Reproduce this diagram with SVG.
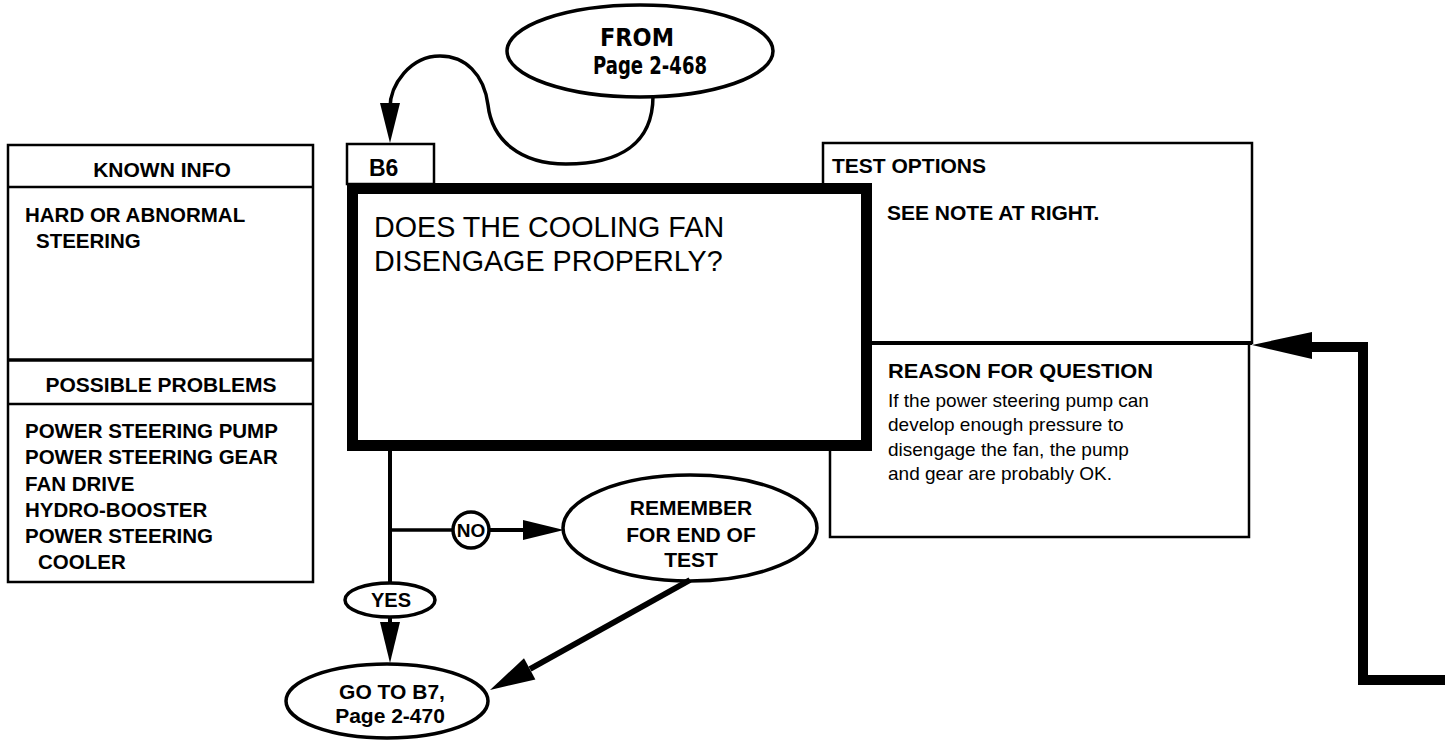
<svg xmlns="http://www.w3.org/2000/svg" width="1445" height="743" viewBox="0 0 1445 743">
<style>
.thin{fill:none;stroke:#000;stroke-width:2.5}
.node{fill:#fff;stroke:#000;stroke-width:3.5}
.t{font-family:"Liberation Sans",Arial,sans-serif;fill:#000}
.b{font-weight:bold}
.hd{font-family:"Liberation Sans",Arial,sans-serif;font-weight:bold;font-size:21px;fill:#000}
.li{font-family:"Liberation Sans",Arial,sans-serif;font-weight:bold;font-size:20.5px;fill:#000}
.ft{font-family:"DejaVu Sans","Noto Sans",sans-serif;font-weight:bold;font-size:25px;fill:#000}
.c{text-anchor:middle}
.ln{fill:none;stroke:#000}
</style>
<rect width="1445" height="743" fill="#fff"/>

<g id="known-info">
  <rect x="8" y="145" width="305" height="437" class="thin"/>
  <line x1="8" y1="187" x2="313" y2="187" class="thin"/>
  <line x1="8" y1="360" x2="313" y2="360" class="ln" stroke-width="3.5"/>
  <line x1="8" y1="404" x2="313" y2="404" class="thin"/>
  <text x="162" y="177" class="hd c">KNOWN INFO</text>
  <text x="25" y="222" class="li">HARD OR ABNORMAL</text>
  <text x="36" y="248" class="li">STEERING</text>
  <text x="161" y="392" class="hd c">POSSIBLE PROBLEMS</text>
  <text x="25" y="438" class="li">POWER STEERING PUMP</text>
  <text x="25" y="464" class="li">POWER STEERING GEAR</text>
  <text x="25" y="491" class="li">FAN DRIVE</text>
  <text x="25" y="517" class="li">HYDRO-BOOSTER</text>
  <text x="25" y="543" class="li">POWER STEERING</text>
  <text x="38" y="569" class="li">COOLER</text>
</g>

<g id="test-options">
  <rect x="823" y="143" width="429" height="200" class="thin"/>
  <rect x="830" y="343" width="419" height="194" class="thin"/>
  <line x1="823" y1="343" x2="1252" y2="343" class="ln" stroke-width="4"/>
  <text x="832" y="173" class="hd">TEST OPTIONS</text>
  <text x="887" y="220" class="t b" font-size="21">SEE NOTE AT RIGHT.</text>
  <text x="888" y="378" class="hd" textLength="265" lengthAdjust="spacingAndGlyphs">REASON FOR QUESTION</text>
  <text class="t" font-size="19">
    <tspan x="888" y="407">If the power steering pump can</tspan>
    <tspan x="888" y="431">develop enough pressure to</tspan>
    <tspan x="888" y="456">disengage the fan, the pump</tspan>
    <tspan x="888" y="480">and gear are probably OK.</tspan>
  </text>
</g>

<g id="b6-label">
  <rect x="347" y="144" width="87" height="40" class="thin" fill="#fff"/>
  <text x="369" y="176" class="t b" font-size="23">B6</text>
</g>

<g id="question">
  <rect x="352.5" y="188.5" width="514" height="257" fill="#fff" stroke="#000" stroke-width="11"/>
  <text x="374" y="237" class="t" font-size="28.7">DOES THE COOLING FAN</text>
  <text x="374" y="271" class="t" font-size="28.7">DISENGAGE PROPERLY?</text>
</g>

<g id="from">
  <ellipse cx="640" cy="51" rx="133" ry="46" class="node"/>
  <text x="637" y="46" class="ft c" textLength="74" lengthAdjust="spacingAndGlyphs">FROM</text>
  <text x="650" y="74" class="ft c" textLength="114" lengthAdjust="spacingAndGlyphs">Page 2-468</text>
</g>

<g id="remember">
  <ellipse cx="690" cy="528" rx="127" ry="53" class="node"/>
  <text x="691" y="515" class="hd c">REMEMBER</text>
  <text x="691" y="542" class="hd c">FOR END OF</text>
  <text x="691" y="567" class="hd c">TEST</text>
</g>

<g id="goto">
  <ellipse cx="387" cy="701" rx="101" ry="37" class="node"/>
  <text x="392" y="699" class="hd c">GO TO B7,</text>
  <text x="390" y="723" class="hd c">Page 2-470</text>
</g>

<g id="connectors">
  <path d="M653,96 C653,145 618,164 566,164 C520,164 492,140 488,105 C484,74 465,56 440,56 C410,56 390,85 390,108" class="ln" stroke-width="3.5"/>
  <polygon points="380,103 400,103 390,143"/>
  <line x1="390" y1="450" x2="390" y2="583" class="ln" stroke-width="4"/>
  <line x1="390" y1="530" x2="453" y2="530" class="ln" stroke-width="3.5"/>
  <line x1="390" y1="617" x2="390" y2="626" class="ln" stroke-width="4"/>
  <polygon points="380,622 400,622 390,663"/>
  <line x1="489" y1="530" x2="526" y2="530" class="ln" stroke-width="4"/>
  <polygon points="523,520 523,540 564,530"/>
  <line x1="690" y1="580" x2="530" y2="669" class="ln" stroke-width="6"/>
  <polygon points="490,690 535.4,679.4 524,658.2"/>
  <path d="M1445,680 H1363 V347 H1305" class="ln" stroke-width="10"/>
  <polygon points="1252,345 1312,332 1312,359"/>
  <g id="no-label">
    <circle cx="471" cy="530" r="18" class="node" stroke-width="3"/>
    <text x="471" y="537" class="t b c" font-size="19">NO</text>
  </g>
  <g id="yes-label">
    <ellipse cx="390" cy="600" rx="45" ry="17" class="node" stroke-width="3"/>
    <text x="391" y="607" class="t b c" font-size="20">YES</text>
  </g>
</g>
</svg>
